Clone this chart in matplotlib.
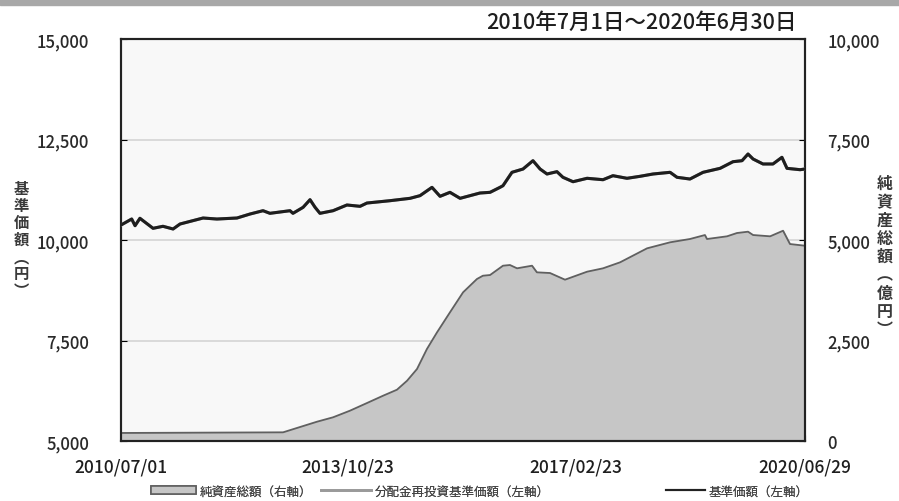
import matplotlib
matplotlib.use("Agg")
import matplotlib.pyplot as plt
from matplotlib.patches import Rectangle, Patch
from matplotlib.lines import Line2D
import pandas as pd

plt.rcParams['font.family'] = ['Noto Sans CJK JP', 'DejaVu Sans']

# 基準価額 (円)
nav_dates = ["2010-07-01", "2010-08-27", "2010-09-14", "2010-10-10", "2010-12-19",
             "2011-02-10", "2011-04-05", "2011-05-12", "2011-09-12", "2011-11-25",
             "2012-03-11", "2012-05-20", "2012-07-28", "2012-09-03", "2012-12-19",
             "2013-01-04", "2013-02-27", "2013-04-05", "2013-05-02", "2013-05-28",
             "2013-08-06", "2013-10-19", "2013-12-28", "2014-02-03", "2014-06-06",
             "2014-09-21", "2014-11-13", "2015-01-16", "2015-02-28", "2015-04-22",
             "2015-06-15", "2015-09-29", "2015-11-22", "2016-01-14", "2016-01-30",
             "2016-03-18", "2016-05-16", "2016-07-08", "2016-08-15", "2016-09-21",
             "2016-11-13", "2016-12-15", "2017-02-07", "2017-04-23", "2017-07-17",
             "2017-09-08", "2017-11-22", "2018-01-30", "2018-04-10", "2018-07-10",
             "2018-08-16", "2018-10-24", "2019-01-02", "2019-04-03", "2019-06-11",
             "2019-07-29", "2019-08-30", "2019-09-26", "2019-11-18", "2020-01-10",
             "2020-02-27", "2020-03-25", "2020-06-03", "2020-06-29"]
nav_values = [10373, 10522, 10356, 10540, 10291, 10341, 10274, 10398, 10547, 10522,
              10547, 10647, 10729, 10664, 10729, 10664, 10813, 11003, 10813, 10664,
              10729, 10871, 10838, 10920, 10978, 11037, 11103, 11310, 11087, 11186,
              11037, 11169, 11186, 11310, 11351, 11684, 11766, 11973, 11766, 11642,
              11700, 11560, 11450, 11535, 11500, 11600, 11535, 11584, 11642, 11684,
              11560, 11517, 11684, 11783, 11948, 11973, 12139, 12015, 11891, 11891,
              12057, 11783, 11749, 11766]

# 純資産総額 (億円)
aum_dates = ["2010-07-01", "2012-11-12", "2013-05-12", "2013-08-06", "2013-11-04",
             "2014-02-03", "2014-04-30", "2014-07-13", "2014-09-05", "2014-10-28",
             "2014-12-20", "2015-02-12", "2015-04-22", "2015-07-01", "2015-09-13",
             "2015-10-15", "2015-11-22", "2016-01-30", "2016-03-07", "2016-04-14",
             "2016-07-03", "2016-07-29", "2016-10-07", "2016-12-26", "2017-04-23",
             "2017-07-17", "2017-10-16", "2018-03-09", "2018-07-10", "2018-10-24",
             "2019-01-12", "2019-01-23", "2019-05-10", "2019-07-02", "2019-08-30",
             "2019-09-26", "2019-12-26", "2020-03-04", "2020-04-10", "2020-06-29"]
aum_values = [200, 216, 480, 590, 754, 945, 1127, 1276, 1500, 1791,
              2289, 2704, 3201, 3699, 4030, 4112, 4129, 4361, 4378, 4296,
              4361, 4196, 4179, 4013, 4212, 4296, 4445, 4793, 4943, 5025,
              5124, 5025, 5092, 5174, 5207, 5124, 5092, 5231, 4900, 4858]

x_ticks = ["2010-07-01", "2013-10-23", "2017-02-23", "2020-06-29"]
x_labels = ["2010/07/01", "2013/10/23", "2017/02/23", "2020/06/29"]
left_ticks = [5000, 7500, 10000, 12500, 15000]
right_ticks = [0, 2500, 5000, 7500, 10000]

nav_d = pd.to_datetime(nav_dates)
aum_d = pd.to_datetime(aum_dates)
xt = pd.to_datetime(x_ticks)

fig = plt.figure(figsize=(8.99, 5.02), dpi=100)
fig.patches.append(Rectangle((0, 0.988), 1, 0.012, transform=fig.transFigure,
                             color='#a8a8a8', zorder=0))

# primary axes: net assets (right scale), twin: NAV (left scale) drawn on top
ax = fig.add_axes([0.1346, 0.1195, 0.7608, 0.8008])
ax.set_facecolor('#f8f8f8')
ax.fill_between(aum_d, 0, aum_values, color='#c6c6c6', zorder=2)
ax.plot(aum_d, aum_values, color='#606060', lw=1.3, zorder=3)
ax.set_ylim(0, 10000)
ax.set_xlim(xt[0], xt[-1])
for v in [2500, 5000, 7500]:
    ax.axhline(v, color='#d4d4d4', lw=1.2, zorder=1)

ax2 = ax.twinx()
ax2.set_facecolor('none')
ax2.plot(nav_d, nav_values, color='#9a9a9a', lw=2.2, zorder=3)
ax2.plot(nav_d, nav_values, color='#1e1e1e', lw=2.2, zorder=4)
ax2.set_ylim(5000, 15000)
ax2.set_xlim(xt[0], xt[-1])

ax.yaxis.tick_right()
ax.set_yticks(right_ticks)
ax.set_yticklabels([f"{v:,}" for v in right_ticks])
ax.tick_params(axis='y', which='both', left=False, right=True, labelleft=False,
               labelright=True, direction='in', length=4, pad=16, labelsize=12,
               labelcolor='#2a2a2a')
for lab in ax.get_yticklabels():
    lab.set_horizontalalignment('left')
    lab.set_fontweight('medium')

ax.set_xticks(xt)
ax.set_xticklabels(x_labels)
ax.tick_params(axis='x', direction='in', length=4, pad=12, labelsize=12.5,
               labelcolor='#1e1e1e')
for lab in ax.get_xticklabels():
    lab.set_fontweight('medium')

ax2.yaxis.tick_left()
ax2.set_yticks(left_ticks)
ax2.set_yticklabels([f"{v:,}" for v in left_ticks])
ax2.tick_params(axis='y', which='both', left=True, right=False, labelleft=True,
                labelright=False, direction='in', length=4, pad=23, labelsize=12,
                labelcolor='#2a2a2a')
for lab in ax2.get_yticklabels():
    lab.set_fontweight('medium')

for a in (ax, ax2):
    for s in a.spines.values():
        s.set_color('#222222')
        s.set_linewidth(1.5)

fig.text(0.886, 0.955, "2010年7月1日～2020年6月30日", ha='right', va='center',
         fontsize=15.5, color='#1e1e1e', fontweight='medium')
fig.text(0.024, 0.522, "基\n準\n価\n額\n︵\n円\n︶", ha='center', va='center',
         fontsize=11, color='#3a3a3a', linespacing=1.08, fontweight='bold')
fig.text(0.984, 0.488, "純\n資\n産\n総\n額\n︵\n億\n円\n︶", ha='center', va='center',
         fontsize=11.5, color='#3a3a3a', linespacing=1.18, fontweight='bold')

leg_items = [
    (Patch(facecolor='#c6c6c6', edgecolor='#606060', lw=1.2), "純資産総額（右軸）", 0.168, 3.6),
    (Line2D([], [], color='#9a9a9a', lw=2), "分配金再投資基準価額（左軸）", 0.357, 4.0),
    (Line2D([], [], color='#222222', lw=1.5), "基準価額（左軸）", 0.741, 3.1),
]
for handle, label, x0, hl in leg_items:
    leg = fig.legend([handle], [label], loc='center left', bbox_to_anchor=(x0, 0.02),
                     frameon=False, fontsize=9, handlelength=hl, handleheight=0.6,
                     handletextpad=0.3, borderpad=0, borderaxespad=0,
                     labelcolor='#444444')
    fig.add_artist(leg)

fig.savefig("out.png", dpi=100, facecolor='white')
